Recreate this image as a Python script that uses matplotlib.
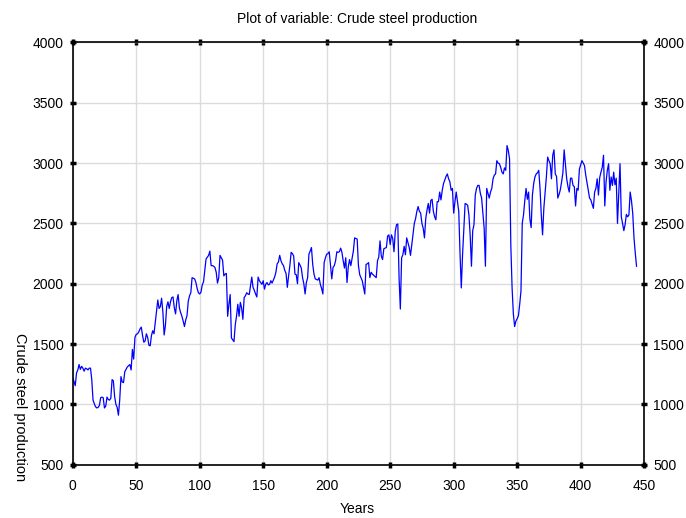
import matplotlib
matplotlib.use("Agg")
import matplotlib.pyplot as plt

plt.rcParams['font.family'] = ['Liberation Sans', 'DejaVu Sans']

# values, index = year 0..444
production = [
    1220, 1190, 1155, 1260, 1285, 1330, 1290, 1315, 1300, 1275,
    1300, 1295, 1285, 1300, 1300, 1205, 1035, 1005, 980, 970,
    975, 990, 1055, 1060, 1055, 970, 985, 1060, 1040, 1035,
    1050, 1205, 1195, 1065, 1000, 975, 910, 1035, 1230, 1185,
    1180, 1270, 1290, 1310, 1320, 1330, 1285, 1455, 1375, 1555,
    1580, 1585, 1600, 1625, 1640, 1570, 1515, 1525, 1585, 1555,
    1490, 1485, 1570, 1610, 1585, 1680, 1770, 1865, 1795, 1810,
    1880, 1765, 1575, 1655, 1810, 1850, 1795, 1850, 1885, 1890,
    1800, 1750, 1860, 1910, 1800, 1760, 1730, 1690, 1645, 1700,
    1735, 1855, 1900, 1925, 2050, 2045, 2040, 2010, 1960, 1925,
    1915, 1930, 1990, 2015, 2110, 2205, 2220, 2235, 2270, 2150,
    2150, 2145, 2135, 2095, 2005, 2050, 2235, 2215, 2195, 2065,
    2080, 2085, 1730, 1830, 1910, 1550, 1535, 1520, 1660, 1730,
    1830, 1730, 1845, 1800, 1705, 1885, 1900, 1925, 1915, 1910,
    1985, 2055, 1970, 1945, 1915, 1890, 2055, 2025, 2010, 1995,
    2025, 1955, 1995, 2010, 1990, 1995, 2025, 2005, 2030, 2055,
    2095, 2165, 2180, 2235, 2190, 2165, 2150, 2110, 2085, 1970,
    2065, 2150, 2260, 2250, 2230, 2080, 2075, 2000, 2175, 2155,
    2130, 2050, 2000, 1915, 2010, 2050, 2245, 2270, 2300, 2160,
    2080, 2040, 2035, 2030, 2050, 1995, 1960, 1915, 2175, 2215,
    2245, 2250, 2265, 2150, 2040, 2135, 2150, 2190, 2265, 2260,
    2265, 2295, 2260, 2190, 2130, 2215, 2010, 2140, 2200, 2150,
    2210, 2270, 2380, 2375, 2370, 2150, 2075, 2050, 2025, 1970,
    1915, 2160, 2165, 2175, 2050, 2095, 2080, 2070, 2060, 2050,
    2190, 2220, 2355, 2230, 2200, 2290, 2295, 2300, 2395, 2405,
    2325, 2405, 2375, 2265, 2435, 2490, 2495, 2050, 1790, 2215,
    2240, 2310, 2240, 2380, 2340, 2300, 2235, 2320, 2410, 2500,
    2540, 2600, 2640, 2600, 2585, 2500, 2460, 2380, 2540, 2610,
    2665, 2585, 2690, 2700, 2600, 2555, 2530, 2680, 2680, 2760,
    2695, 2775, 2830, 2860, 2890, 2910, 2870, 2845, 2775, 2790,
    2585, 2680, 2760, 2680, 2600, 2250, 1965, 2240, 2460, 2665,
    2660, 2650, 2570, 2400, 2145, 2440, 2490, 2735, 2790, 2815,
    2815, 2750, 2710, 2580, 2460, 2145, 2790, 2750, 2710, 2760,
    2790, 2870, 2900, 2910, 3020, 3000, 2995, 2965, 2925, 2910,
    2960, 2940, 3145, 3105, 3035, 2320, 1965, 1750, 1645, 1690,
    1710, 1735, 1830, 1940, 2500, 2570, 2690, 2790, 2700, 2760,
    2540, 2465, 2735, 2830, 2885, 2910, 2920, 2940, 2790, 2570,
    2405, 2625, 2760, 2885, 3050, 3020, 2995, 2870, 3065, 3110,
    2910, 2890, 2710, 2740, 2780, 2845, 2920, 3110, 2990, 2870,
    2805, 2760, 2875, 2875, 2815, 2805, 2645, 2790, 2775, 2950,
    2985, 3020, 3000, 2980, 2900, 2840, 2775, 2710, 2695, 2660,
    2625, 2760, 2790, 2870, 2735, 2880, 2925, 2965, 3065, 2645,
    2845, 2940, 2995, 2775, 2885, 2815, 2925, 2820, 2875, 2500,
    2750, 2995, 2555, 2500, 2440, 2490, 2575, 2555, 2570, 2760,
    2690, 2585, 2380, 2255, 2145,
]
years = list(range(len(production)))

x_ticks = [0, 50, 100, 150, 200, 250, 300, 350, 400, 450]
y_ticks = [500, 1000, 1500, 2000, 2500, 3000, 3500, 4000]

fig = plt.figure(figsize=(6.86, 5.18), dpi=100)
ax = fig.add_axes([0.106, 0.103, 0.833, 0.815])

ax.plot(years, production, color='#0000ff', linewidth=0.9)

ax.set_xlim(0, 450)
ax.set_ylim(500, 4000)
ax.set_xticks(x_ticks)
ax.set_yticks(y_ticks)
ax.grid(True, color='#dcdcdc', linewidth=1)
ax.set_axisbelow(True)

# short thick tick marks on all four sides, labels left/right/bottom
ax.tick_params(axis='both', direction='inout', length=5, width=2.5, color='black',
               labelsize=10, top=True, right=True, labelright=True)
ax.tick_params(axis='x', pad=8)
ax.tick_params(axis='y', pad=4)
for s in ax.spines.values():
    s.set_linewidth(1.2)

fig.text(0.52, 0.963, 'Plot of variable: Crude steel production', ha='center', va='center', fontsize=10)
fig.text(357 / 686, 1 - 509 / 518, 'Years', ha='center', va='center', fontsize=10)
fig.text(20 / 686, 1 - 407 / 518, 'Crude steel production', ha='center', va='center',
         rotation=-90, fontsize=10.5)

fig.savefig('out.png', dpi=100)
